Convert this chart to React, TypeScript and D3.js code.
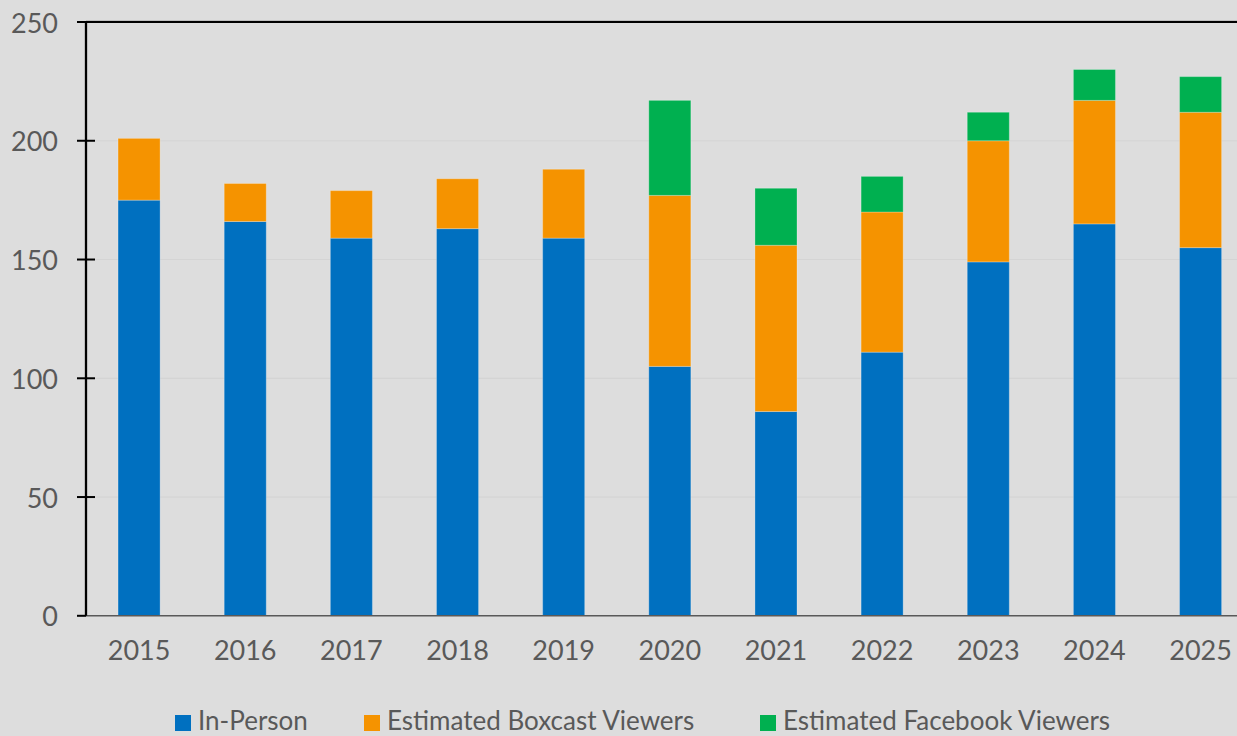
import * as React from 'react'
import * as d3 from 'd3'

const years = ['2015', '2016', '2017', '2018', '2019', '2020', '2021', '2022', '2023', '2024', '2025']
const inPerson = [175, 166, 159, 163, 159, 105, 86, 111, 149, 165, 155]
const boxcast = [26, 16, 20, 21, 29, 72, 70, 59, 51, 52, 57]
const facebook = [0, 0, 0, 0, 0, 40, 24, 15, 12, 13, 15]
const seriesNames = ['In-Person', 'Estimated Boxcast Viewers', 'Estimated Facebook Viewers']
const seriesColors = ['#0070c0', '#f59300', '#00b050']
const yTicks = [0, 50, 100, 150, 200, 250]

export default function App() {
    const W = 1237
    const H = 736
    const LEFT = 86
    const TOP = 22
    const BOTTOM = 615.8
    const STEP = 106.15
    const FONT = 'Gill Sans, "Gill Sans MT", Lato, sans-serif'
    const TEXT = '#595959'

    const rows = years.map((y, i) => ({ year: y, a: inPerson[i], b: boxcast[i], c: facebook[i] }))
    const stack = d3.stack<any>().keys(['a', 'b', 'c'])(rows)

    const x = d3.scaleBand()
        .domain(years)
        .range([LEFT, LEFT + STEP * years.length])
        .paddingInner(0.604)
        .paddingOuter(0.302)
    const y = d3.scaleLinear().domain([0, 250]).range([BOTTOM, TOP])

    const legendX = [175, 364, 760]

    return <svg width={W} height={H} viewBox={`0 0 ${W} ${H}`}
        style={{ position: 'absolute', left: 0, top: 0, display: 'block' }}>
        <rect x={0} y={0} width={W} height={H} fill="#dddddd" />

        {yTicks.filter(t => t > 0 && t < 250).map(t =>
            <line key={t} x1={LEFT} x2={W} y1={y(t)} y2={y(t)} stroke="#d4d4d4" strokeWidth={1.2} />
        )}

        {stack.map((layer, si) =>
            <g key={si} fill={seriesColors[si]}>
                {layer.map((d, i) => d[1] - d[0] > 0 &&
                    <rect key={i}
                        x={x(years[i])}
                        width={x.bandwidth()}
                        y={y(d[1])}
                        height={y(d[0]) - y(d[1])}
                        stroke="#ffffff" strokeOpacity={0.25} strokeWidth={1} />
                )}
            </g>
        )}

        {/* frame */}
        <line x1={LEFT} x2={W} y1={TOP - 1} y2={TOP - 1} stroke="#a0a0a0" strokeWidth={1} />
        <line x1={LEFT} x2={W} y1={TOP} y2={TOP} stroke="#000" strokeWidth={2} />
        <line x1={LEFT} x2={W} y1={BOTTOM} y2={BOTTOM} stroke="#595959" strokeWidth={1.5} />
        <line x1={LEFT} x2={LEFT} y1={TOP - 1} y2={BOTTOM} stroke="#000" strokeWidth={2.3} />

        {yTicks.map(t =>
            <g key={t}>
                <line x1={77} x2={t === 0 ? LEFT : 95} y1={y(t)} y2={y(t)} stroke="#000" strokeWidth={2} />
                <text x={58} y={y(t)} textAnchor="end" dominantBaseline="central"
                    fontFamily={FONT} fontSize={27} fill={TEXT}>{t}</text>
            </g>
        )}

        {years.map(yr =>
            <text key={yr} x={(x(yr) as number) + x.bandwidth() / 2} y={660} textAnchor="middle"
                fontFamily={FONT} fontSize={27} fill={TEXT}>{yr}</text>
        )}

        {seriesNames.map((n, i) =>
            <g key={n}>
                <rect x={legendX[i]} y={715} width={16} height={16} fill={seriesColors[i]} />
                <text x={legendX[i] + 23} y={730} fontFamily={FONT} fontSize={26} fill={TEXT}>{n}</text>
            </g>
        )}
    </svg>
}
